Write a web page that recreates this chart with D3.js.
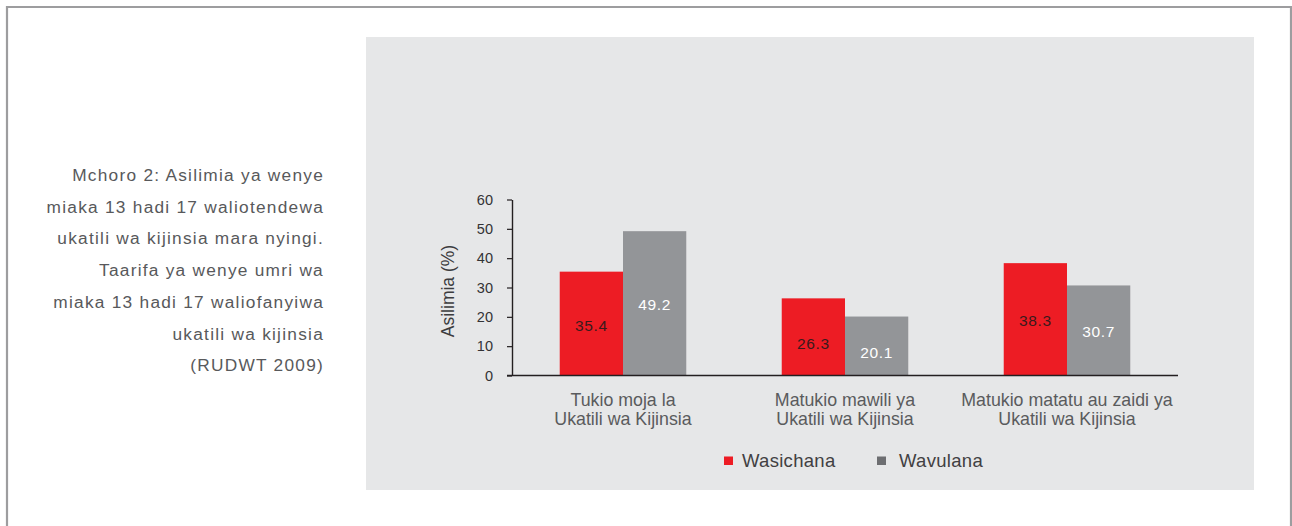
<!DOCTYPE html>
<html><head><meta charset="utf-8">
<script src="https://cdn.jsdelivr.net/npm/d3@7"></script>
<style>
html,body{margin:0;padding:0;background:#fff;}
svg{display:block;}
</style></head>
<body>
<script>
const categories = [["Tukio moja la","Ukatili wa Kijinsia"],["Matukio mawili ya","Ukatili wa Kijinsia"],["Matukio matatu au zaidi ya","Ukatili wa Kijinsia"]];
const seriesNames = ["Wasichana","Wavulana"];
const wasichana = [35.4, 26.3, 38.3];
const wavulana = [49.2, 20.1, 30.7];
const yTicks = [0,10,20,30,40,50,60];
const captionLines = ["Mchoro 2: Asilimia ya wenye","miaka 13 hadi 17 waliotendewa","ukatili wa kijinsia mara nyingi.","Taarifa ya wenye umri wa","miaka 13 hadi 17 waliofanyiwa","ukatili wa kijinsia","(RUDWT 2009)"];

const W=1292,H=526;
const FONT="'Liberation Sans',Arial,Helvetica,sans-serif";
const svg=d3.select("body").append("svg").attr("width",W).attr("height",H);
// frame
svg.append("path").attr("d",`M7,${H} L7,7 L1291,7 L1291,${H}`).attr("fill","none").attr("stroke","#9d9d9f").attr("stroke-width",2.2);
// panel
svg.append("rect").attr("x",366).attr("y",37).attr("width",888).attr("height",453).attr("fill","#e6e7e8");

// caption
const cap=svg.append("text").attr("font-family",FONT).attr("font-size",17.3).attr("letter-spacing",1.25).attr("fill","#58595b").attr("text-anchor","end");
captionLines.forEach((l,i)=>cap.append("tspan").attr("x",324).attr("y",181+i*31.7).text(l));

const x0=d3.scaleBand().domain(d3.range(categories.length)).range([512,1178]).paddingInner(0.43).paddingOuter(0.215);
const x1=d3.scaleBand().domain(seriesNames).range([0,x0.bandwidth()]);
const y=d3.scaleLinear().domain([0,60]).range([375.5,199.5]);
const colors={"Wasichana":"#ed1c24","Wavulana":"#939598"};
const labelColors={"Wasichana":"#3a1a1c","Wavulana":"#ffffff"};
const data=categories.map((c,i)=>({i,vals:[{k:"Wasichana",v:wasichana[i]},{k:"Wavulana",v:wavulana[i]}]}));

const g=svg.append("g");
const grp=g.selectAll("g.grp").data(data).join("g").attr("transform",d=>`translate(${x0(d.i)},0)`);
grp.selectAll("rect").data(d=>d.vals).join("rect")
  .attr("x",d=>x1(d.k)).attr("width",x1.bandwidth())
  .attr("y",d=>y(d.v)).attr("height",d=>y(0)-y(d.v))
  .attr("fill",d=>colors[d.k]);
grp.selectAll("text").data(d=>d.vals).join("text")
  .attr("x",d=>x1(d.k)+x1.bandwidth()/2)
  .attr("y",d=>y(d.v/2)+(d.v<30?12:7))
  .attr("text-anchor","middle").attr("font-family",FONT).attr("font-size",15.5).attr("letter-spacing",0.6)
  .attr("fill",d=>labelColors[d.k]).text(d=>d.v.toFixed(1));

// y axis
const ya=svg.append("g").attr("transform","translate(512,0)").call(d3.axisLeft(y).tickValues(yTicks).tickSize(5).tickPadding(14).tickSizeOuter(0));
ya.select(".domain").attr("stroke","#231f20").attr("stroke-width",1.4);
ya.selectAll(".tick line").attr("stroke","#231f20").attr("stroke-width",1.2);
ya.selectAll(".tick text").attr("font-family",FONT).attr("font-size",14.5).attr("fill","#333335");
// x baseline
svg.append("line").attr("x1",507).attr("x2",1178).attr("y1",y(0)).attr("y2",y(0)).attr("stroke","#231f20").attr("stroke-width",1.4);

// y title
svg.append("text").attr("transform","translate(454,291) rotate(-90)").attr("text-anchor","middle")
  .attr("font-family",FONT).attr("font-size",17.5).attr("fill","#3c3c3e").text("Asilimia (%)");

// category labels
const cl=svg.append("g").selectAll("text").data(categories).join("text")
  .attr("text-anchor","middle").attr("font-family",FONT).attr("font-size",17.8).attr("fill","#5a5b5d");
cl.each(function(c,i){
  const t=d3.select(this);
  c.forEach((l,j)=>t.append("tspan").attr("x",x0(i)+x0.bandwidth()/2).attr("y",406+j*18.5).text(l));
});

// legend
const lg=svg.append("g");
const legendX=[724,877];
const legendSq={"Wasichana":"#ed1c24","Wavulana":"#6d6e71"};
seriesNames.forEach((s,i)=>{
  lg.append("rect").attr("x",legendX[i]).attr("y",456.5).attr("width",9).attr("height",8.5).attr("fill",legendSq[s]);
  lg.append("text").attr("x",legendX[i]+(i?22:18)).attr("y",467).attr("font-family",FONT)
    .attr("font-size",18.5).attr("letter-spacing",0.3).attr("fill","#414042").text(s);
});
</script>
</body></html>
